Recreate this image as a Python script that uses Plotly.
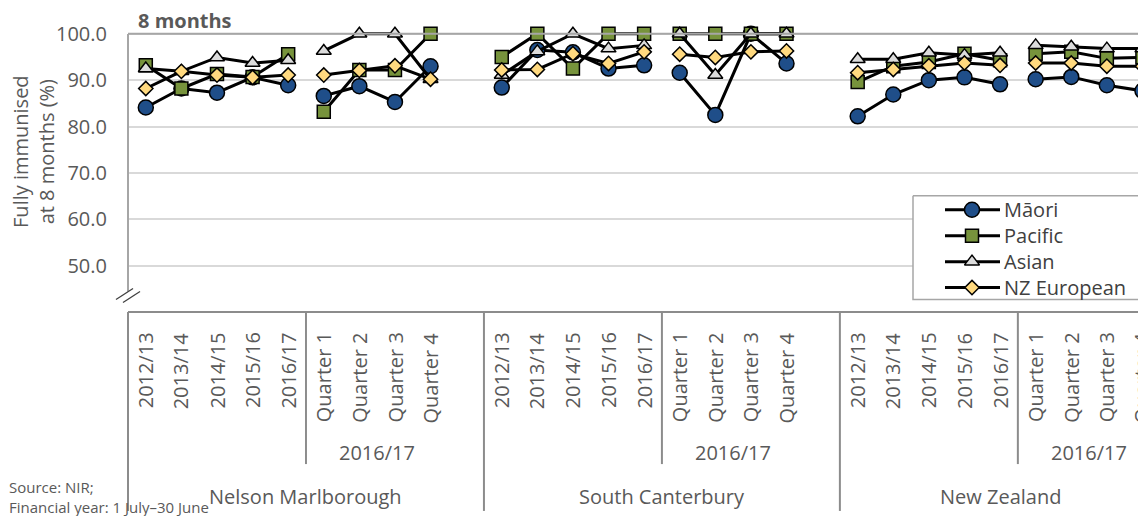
import plotly.graph_objects as go

# ---------------- data ----------------
regions = ["Nelson Marlborough", "South Canterbury", "New Zealand"]
periods = ["2012/13", "2013/14", "2014/15", "2015/16", "2016/17",
           "Quarter 1", "Quarter 2", "Quarter 3", "Quarter 4"]
quarter_group_label = "2016/17"
series_names = ["Māori", "Pacific", "Asian", "NZ European"]

maori = [84.1, 88.2, 87.3, 90.6, 88.9, 86.6, 88.7, 85.3, 93.0,
         88.4, 96.5, 96.0, 92.5, 93.2, 91.6, 82.5, 100.0, 93.6,
         82.2, 86.9, 90.0, 90.6, 89.1, 90.2, 90.7, 88.9, 87.7]
pacific = [93.2, 88.2, 91.3, 90.7, 95.6, 83.2, 92.2, 92.2, 100.0,
           95.0, 100.0, 92.5, 100.0, 100.0, 100.0, 100.0, 100.0, 100.0,
           89.6, 93.0, 93.9, 95.7, 94.3, 95.7, 96.1, 94.7, 94.9]
asian = [92.5, 91.9, 94.9, 93.7, 94.3, 96.3, 100.0, 100.0, 90.2,
         91.1, 96.2, 100.0, 96.8, 97.5, 100.0, 91.1, 100.0, 100.0,
         94.5, 94.5, 95.9, 95.4, 95.9, 97.5, 97.2, 96.8, 96.8]
nz_european = [88.2, 91.9, 91.1, 90.6, 91.1, 91.1, 92.1, 93.1, 90.2,
               92.2, 92.3, 95.7, 93.6, 96.1, 95.6, 94.9, 96.1, 96.3,
               91.6, 92.3, 93.1, 93.7, 93.2, 93.7, 93.7, 93.0, 93.0]
y_ticks = [50, 60, 70, 80, 90, 100]

# ---------------- layout constants (page pixel coordinates) ----------------
PAGE_W, PAGE_H = 1146, 516
OFF = 8                      # default body margin of the page
PLOT_L, PLOT_R = 128, 1146   # plot area edges on the page
PLOT_T, PLOT_B = 30.7, 312.5
W, H = PAGE_W - OFF, PAGE_H - OFF
L, R = PLOT_L - OFF, PAGE_W - PLOT_R
T, B = PLOT_T - OFF, PAGE_H - PLOT_B
PW, PH = PLOT_R - PLOT_L, PLOT_B - PLOT_T
X_RANGE = [-0.5, 28.1]
Y_RANGE = [40, 100.6]
SLOTS = len(periods) + 1
N_ANNUAL = 5
FONT = "Open Sans"
TXT = "#595959"
AXC = "#A6A6A6"
SEPC = "#8C8C8C"


def slot(r, p):
    return r * SLOTS + p


def xs_paper(s):
    return (s - X_RANGE[0]) / (X_RANGE[1] - X_RANGE[0])


def xpp(px):
    return (px - PLOT_L) / PW


def ypp(py):
    return (PLOT_B - py) / PH


def series_xy(vals):
    xs, ys = [], []
    for r in range(len(regions)):
        for p in range(len(periods)):
            if p == N_ANNUAL or (p == 0 and r > 0):
                xs.append(None)
                ys.append(None)
            xs.append(slot(r, p))
            ys.append(vals[r * len(periods) + p])
    return xs, ys


styles = [
    dict(symbol="circle", size=15, color="#1F4E89"),
    dict(symbol="square", size=13, color="#77933C"),
    dict(symbol="triangle-up", size=13, color="#DCDCDC"),
    dict(symbol="diamond", size=11, color="#FFD97F"),
]
all_series = [maori, pacific, asian, nz_european]

fig = go.Figure()
for name, vals, st in zip(series_names, all_series, styles):
    xs, ys = series_xy(vals)
    fig.add_trace(go.Scatter(
        x=xs, y=ys, mode="lines+markers", name=name, showlegend=False,
        line=dict(color="black", width=3),
        marker=dict(symbol=st["symbol"], size=st["size"], color=st["color"],
                    line=dict(color="black", width=1.5)),
        cliponaxis=False, connectgaps=False,
    ))

# custom legend box (filled trace so it covers the gridlines)
bx0, bx1, by0, by1 = 913, 1140, 196, 300
fig.add_trace(go.Scatter(
    x=[bx0, bx1, bx1, bx0, bx0], y=[by0, by0, by1, by1, by0], xaxis="x2", yaxis="y2",
    mode="lines", fill="toself", fillcolor="white", line=dict(color=AXC, width=1.5),
    showlegend=False, hoverinfo="skip", cliponaxis=False,
))
leg_rows = [210, 236, 262, 288]
for name, st, row in zip(series_names, styles, leg_rows):
    fig.add_trace(go.Scatter(
        x=[945, 1000], y=[row, row], xaxis="x2", yaxis="y2",
        mode="lines", showlegend=False, hoverinfo="skip",
        line=dict(color="black", width=3), cliponaxis=False,
    ))
    fig.add_trace(go.Scatter(
        x=[972], y=[row], xaxis="x2", yaxis="y2",
        mode="markers", showlegend=False, hoverinfo="skip",
        marker=dict(symbol=st["symbol"], size=st["size"], color=st["color"], opacity=1,
                    line=dict(color="black", width=1.5)),
        cliponaxis=False,
    ))

shapes = []
annotations = []

for name, row in zip(series_names, leg_rows):
    annotations.append(dict(xref="x2", yref="y2", x=1002, y=row, text=name, showarrow=False,
                            xanchor="left", yanchor="middle",
                            font=dict(family=FONT, size=20, color="#404040")))

# top border at 100 and y-axis line with break
shapes.append(dict(type="line", xref="paper", yref="y", x0=0, x1=1, y0=100, y1=100,
                   line=dict(color=AXC, width=2)))
shapes.append(dict(type="line", xref="paper", yref="paper", x0=0, x1=0, y0=ypp(292), y1=ypp(33.6),
                   line=dict(color=AXC, width=2)))
for (a, b, c, d) in [(116, 300, 133, 289), (123, 303, 140, 292)]:
    shapes.append(dict(type="line", xref="paper", yref="paper", x0=xpp(a), y0=ypp(b),
                       x1=xpp(c), y1=ypp(d), line=dict(color="#404040", width=1.3)))

# x-axis line
shapes.append(dict(type="line", xref="paper", yref="paper", x0=0, x1=1, y0=0, y1=0,
                   line=dict(color=SEPC, width=2)))

# separators
for r in range(len(regions)):
    s_major = slot(r, 0) - 0.5
    shapes.append(dict(type="line", xref="paper", yref="paper", x0=xs_paper(s_major), x1=xs_paper(s_major),
                       y0=0, y1=ypp(512), line=dict(color=SEPC, width=2)))
    s_sub = slot(r, N_ANNUAL) - 0.5
    shapes.append(dict(type="line", xref="paper", yref="paper", x0=xs_paper(s_sub), x1=xs_paper(s_sub),
                       y0=0, y1=ypp(465), line=dict(color=SEPC, width=2)))

# category tick labels
for r in range(len(regions)):
    for p, lab in enumerate(periods):
        annotations.append(dict(xref="x", yref="paper", x=slot(r, p), y=ypp(331), text=lab,
                                textangle=-90, showarrow=False, xanchor="center", yanchor="top",
                                font=dict(family=FONT, size=20, color=TXT)))
    qc = (slot(r, N_ANNUAL) + slot(r, len(periods) - 1)) / 2
    annotations.append(dict(xref="x", yref="paper", x=qc, y=ypp(453), text=quarter_group_label,
                            showarrow=False, xanchor="center", yanchor="middle",
                            font=dict(family=FONT, size=20, color=TXT)))

region_centers = [slot(0, 0) + 4.5, slot(1, 0) + 4.5, 24.0]
for name, c in zip(regions, region_centers):
    annotations.append(dict(xref="x", yref="paper", x=c, y=ypp(498), text=name,
                            showarrow=False, xanchor="center", yanchor="middle",
                            font=dict(family=FONT, size=20, color=TXT)))

# title, axis title, source
annotations.append(dict(xref="paper", yref="paper", x=xpp(136), y=ypp(20), text="<b>8 months</b>",
                        showarrow=False, xanchor="left", yanchor="middle",
                        font=dict(family=FONT, size=20, color=TXT)))
annotations.append(dict(xref="paper", yref="paper", x=xpp(34), y=ypp(152),
                        text="Fully immunised<br>at 8 months (%)", textangle=-90,
                        showarrow=False, xanchor="center", yanchor="middle",
                        font=dict(family=FONT, size=20, color=TXT)))
annotations.append(dict(xref="paper", yref="paper", x=xpp(7), y=ypp(488), text="Source: NIR;",
                        showarrow=False, xanchor="left", yanchor="middle",
                        font=dict(family=FONT, size=15, color=TXT)))
annotations.append(dict(xref="paper", yref="paper", x=xpp(7), y=ypp(508),
                        text="Financial year: 1 July–30 June",
                        showarrow=False, xanchor="left", yanchor="middle",
                        font=dict(family=FONT, size=15, color=TXT)))

fig.update_layout(
    width=W, height=H,
    margin=dict(l=L, r=R, t=T, b=B, pad=0),
    paper_bgcolor="white", plot_bgcolor="white",
    font=dict(family=FONT, size=20, color=TXT),
    xaxis=dict(range=X_RANGE, showgrid=False, zeroline=False, showticklabels=False,
               showline=False, fixedrange=True),
    yaxis=dict(range=Y_RANGE, tickvals=y_ticks, ticktext=[f"{v:.1f}" for v in y_ticks],
               showgrid=True, gridcolor="#D9D9D9", gridwidth=1.5, zeroline=False,
               showline=False, ticks="", ticklabelstandoff=20,
               tickfont=dict(family=FONT, size=20, color=TXT), fixedrange=True),
    xaxis2=dict(overlaying="x", anchor="y2", range=[PLOT_L, PLOT_R], visible=False, fixedrange=True),
    yaxis2=dict(overlaying="y", anchor="x2", range=[PLOT_B, PLOT_T], visible=False, fixedrange=True),
    shapes=shapes,
    annotations=annotations,
    showlegend=False,
)

fig.write_html("out.html")
